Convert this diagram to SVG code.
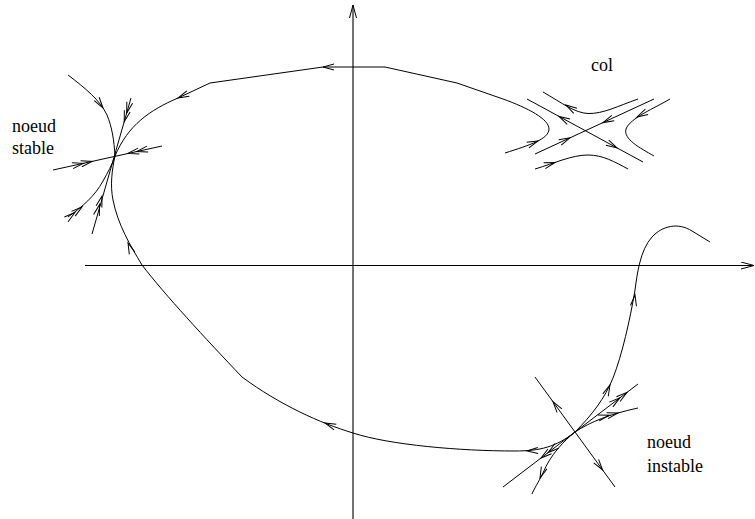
<svg xmlns="http://www.w3.org/2000/svg" width="755" height="519" viewBox="0 0 755 519">
<style>
.ln{fill:none;stroke:#000;stroke-width:1}
.ax{fill:none;stroke:#000;stroke-width:1.1}
.ah{fill:none;stroke:#000;stroke-width:1}
.lb{font-family:'Liberation Serif','Times New Roman','DejaVu Serif',serif;font-size:18px;fill:#000}
</style>
<defs>
<path id="ah" class="ah" d="M-11,-3 L0,0 L-11,3"/>
<path id="ah2" class="ah" d="M-11,-3 L0,0 L-11,3 M-20,-3 L-9,0 L-20,3"/>
<marker id="axm" markerWidth="14" markerHeight="8" refX="13" refY="4" orient="auto" markerUnits="userSpaceOnUse">
<path d="M0,0.5 L13,4 L0,7.5" fill="none" stroke="#000" stroke-width="1"/>
</marker>
</defs>
<rect width="755" height="519" fill="#fff"/>
<g id="axes">
<path class="ax" d="M353,519 L353,5" marker-end="url(#axm)"/>
<path class="ax" d="M85,265.5 L754,265.5" marker-end="url(#axm)"/>
</g>
<g id="connectors">
<path class="ln" d="M505,153 C530,145 549,139 549,129 C549,119 528,108 503,99 L457,83 L385,67 L323,67 L210,83 L178,98 C150,110 128,125 115,156"/>
<use href="#ah" transform="translate(538,141) rotate(-22)"/>
<use href="#ah" transform="translate(323,67) rotate(180)"/>
<use href="#ah" transform="translate(178,98) rotate(156)"/>
<path class="ln" d="M575,432 C556,447 540,451 515,451 C460,451 390,445 353,433 C320,423 280,405 242,377 C205,338 165,295 142,265 C130,245 118,225 113,200 C110,185 112,170 115,156"/>
<use href="#ah" transform="translate(527,451) rotate(177)"/>
<use href="#ah" transform="translate(325,423) rotate(202)"/>
<use href="#ah" transform="translate(128,243) rotate(248)"/>
<path class="ln" d="M575,432 C592,415 605,398 613,378 C622,355 630,320 635,290 C637,275 640,250 652,237 C662,226 678,222 692,231 L710,242"/>
<use href="#ah" transform="translate(610,385) rotate(-66)"/>
<use href="#ah" transform="translate(635,295) rotate(-82)"/>
</g>
<g id="noeud-stable">
<path class="ln" d="M68,75 C85,88 100,100 107,115 C112,127 114,140 115,156"/>
<use href="#ah" transform="translate(103,108) rotate(55)"/>
<path class="ln" d="M53,170 L162,146"/>
<use href="#ah2" transform="translate(92,161.4) rotate(-12.4)"/>
<use href="#ah2" transform="translate(128,153.4) rotate(167.6)"/>
<path class="ln" d="M131,98 L92,234"/>
<use href="#ah2" transform="translate(124.2,121.7) rotate(106)"/>
<use href="#ah2" transform="translate(102,196) rotate(-74)"/>
<path class="ln" d="M68,217 C82,207 95,196 103,181 C108,172 112,165 115,156"/>
<use href="#ah2" transform="translate(82,207) rotate(-38)"/>
<text class="lb" x="12" y="131.5" font-family="Liberation Serif, serif">noeud</text>
<text class="lb" x="12" y="154" font-family="Liberation Serif, serif">stable</text>
</g>
<g id="col">
<path class="ln" d="M527,99 L643,162"/>
<use href="#ah" transform="translate(559,116.4) rotate(208.5)"/>
<use href="#ah" transform="translate(617,147.9) rotate(28.5)"/>
<path class="ln" d="M535,154 L654,99"/>
<use href="#ah" transform="translate(570,137.8) rotate(-24.8)"/>
<use href="#ah" transform="translate(603,122.6) rotate(155.2)"/>
<path class="ln" d="M543,92 C562,103 575,113 588,113.5 C603,114 618,106 638,99"/>
<use href="#ah" transform="translate(566,105) rotate(212)"/>
<path class="ln" d="M670,99 C655,108 630,118 626,129 C623,139 640,148 654,156"/>
<use href="#ah" transform="translate(637,117) rotate(152)"/>
<path class="ln" d="M535,169 C555,163 572,155 588,155 C603,155 615,162 628,169"/>
<use href="#ah" transform="translate(555,162.5) rotate(-17)"/>
<text class="lb" x="591" y="70.5" font-family="Liberation Serif, serif">col</text>
</g>
<g id="noeud-instable">
<path class="ln" d="M535,377 L615,487"/>
<use href="#ah" transform="translate(553,401.7) rotate(234)"/>
<use href="#ah" transform="translate(602.6,470) rotate(54)"/>
<path class="ln" d="M503,487 L638,384"/>
<use href="#ah2" transform="translate(627,392.4) rotate(-37.3)"/>
<use href="#ah2" transform="translate(541,458) rotate(142.7)"/>
<path class="ln" d="M575,432 C590,422 610,414 638,408"/>
<use href="#ah2" transform="translate(618,413) rotate(-14)"/>
<path class="ln" d="M575,432 C565,440 550,455 543,473 C538,483 534,489 532,494"/>
<use href="#ah" transform="translate(540,478) rotate(112)"/>
<text class="lb" x="647" y="447.5" font-family="Liberation Serif, serif">noeud</text>
<text class="lb" x="647" y="471.5" font-family="Liberation Serif, serif">instable</text>
</g>
</svg>
